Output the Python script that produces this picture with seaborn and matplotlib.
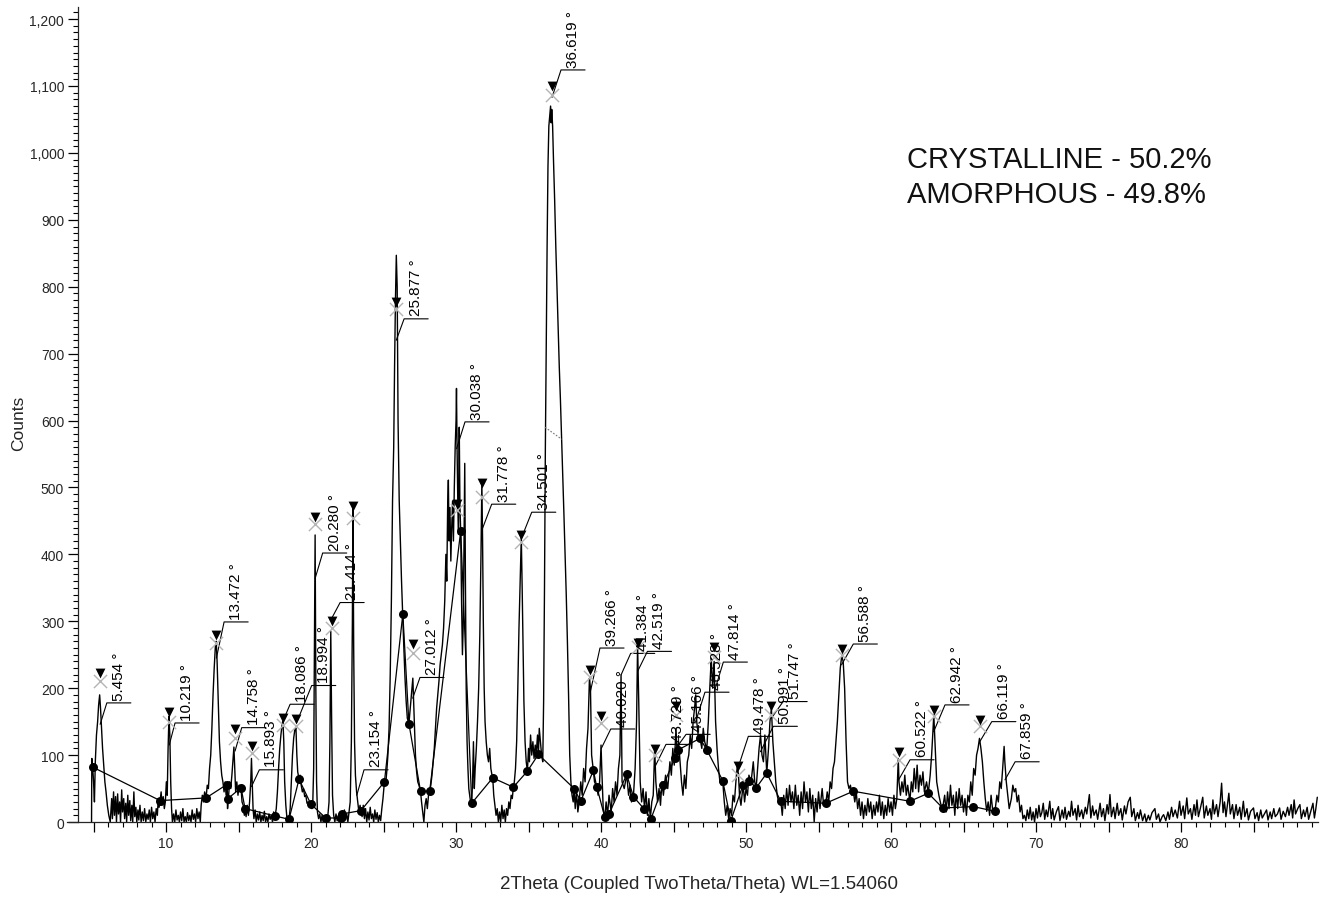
import matplotlib
matplotlib.use("Agg")
import matplotlib.pyplot as plt
import seaborn as sns
import pandas as pd
from matplotlib.ticker import MultipleLocator, FixedLocator, FuncFormatter

# ---------------- data: (2theta, counts) ----------------
seg_05_10 = [
    (4.86, 0), (4.88, 95), (4.94, 82), (5.00, 60), (5.06, 30), (5.12, 90), (5.20, 130), (5.28, 150), (5.35, 175),
    (5.42, 190), (5.48, 170), (5.55, 140), (5.62, 110), (5.70, 85), (5.78, 60), (5.86, 45), (5.95, 25), (6.05, 10),
    (6.15, 0), (6.25, 35), (6.30, 5), (6.38, 45), (6.44, 10), (6.52, 38), (6.58, 0), (6.66, 42), (6.72, 12),
    (6.80, 30), (6.86, 0), (6.94, 48), (7.00, 15), (7.08, 35), (7.14, 5), (7.22, 28), (7.28, 0), (7.36, 40),
    (7.42, 10), (7.50, 32), (7.56, 2), (7.64, 25), (7.70, 0), (7.78, 45), (7.84, 8), (7.92, 22), (7.98, 0),
    (8.06, 18), (8.12, 3), (8.20, 25), (8.28, 0), (8.36, 15), (8.44, 2), (8.52, 20), (8.60, 0), (8.68, 12),
    (8.76, 4), (8.84, 18), (8.92, 0), (9.00, 22), (9.08, 5), (9.16, 15), (9.24, 0), (9.32, 20), (9.40, 10),
    (9.46, 35), (9.52, 22), (9.59, 32), (9.66, 45), (9.72, 25), (9.80, 38), (9.88, 20), (9.95, 30),
]
seg_10_14 = [
    (10.02, 60), (10.08, 40), (10.14, 110), (10.20, 158), (10.26, 130), (10.32, 60), (10.38, 20), (10.44, 0),
    (10.52, 12), (10.60, 0), (10.68, 18), (10.76, 3), (10.84, 10), (10.92, 0), (11.00, 15), (11.08, 2),
    (11.16, 20), (11.24, 0), (11.32, 8), (11.40, 0), (11.48, 14), (11.56, 2), (11.64, 10), (11.72, 0),
    (11.80, 18), (11.88, 4), (11.96, 12), (12.04, 0), (12.12, 20), (12.20, 5), (12.28, 15), (12.36, 0),
    (12.42, 25), (12.50, 40), (12.58, 30), (12.66, 45), (12.76, 36), (12.84, 55), (12.92, 50), (13.00, 80),
    (13.08, 100), (13.16, 140), (13.24, 190), (13.32, 230), (13.40, 262), (13.46, 270), (13.52, 240),
    (13.60, 180), (13.68, 120), (13.76, 90), (13.84, 70), (13.92, 60), (14.00, 45), (14.08, 60), (14.14, 40),
    (14.19, 56), (14.24, 20), (14.30, 35),
]
seg_14_20 = [
    (14.38, 60), (14.46, 50), (14.54, 70), (14.62, 95), (14.68, 112), (14.74, 80), (14.80, 45), (14.88, 60),
    (14.96, 40), (15.04, 55), (15.12, 48), (15.17, 51), (15.24, 30), (15.32, 25), (15.40, 10), (15.45, 20),
    (15.52, 8), (15.60, 25), (15.68, 10), (15.76, 30), (15.84, 60), (15.89, 95), (15.94, 60), (16.00, 20),
    (16.06, 5), (16.14, 18), (16.22, 0), (16.30, 12), (16.38, 3), (16.46, 15), (16.54, 0), (16.62, 10),
    (16.70, 2), (16.78, 16), (16.86, 0), (16.94, 8), (17.02, 0), (17.10, 12), (17.18, 4), (17.26, 10),
    (17.34, 0), (17.42, 15), (17.52, 9), (17.60, 20), (17.68, 45), (17.76, 80), (17.84, 110), (17.92, 130),
    (18.00, 145), (18.06, 152), (18.12, 120), (18.18, 60), (18.26, 25), (18.34, 5), (18.42, 0), (18.48, 4),
    (18.56, 20), (18.64, 60), (18.72, 100), (18.80, 125), (18.88, 138), (18.96, 140), (19.02, 100), (19.08, 75),
    (19.17, 64), (19.24, 70), (19.32, 55), (19.40, 45), (19.48, 50), (19.56, 38), (19.64, 40), (19.72, 28),
    (19.80, 30), (19.90, 22), (19.98, 27), (20.06, 20), (20.12, 30),
]
seg_20_25 = [
    (20.18, 80), (20.24, 300), (20.28, 429), (20.33, 200), (20.38, 60), (20.44, 15), (20.52, 5), (20.60, 12),
    (20.68, 0), (20.76, 10), (20.84, 0), (20.92, 8), (21.01, 6), (21.08, 0), (21.16, 10), (21.24, 30),
    (21.30, 120), (21.36, 285), (21.42, 150), (21.48, 40), (21.56, 10), (21.64, 0), (21.72, 12), (21.80, 2),
    (21.88, 10), (21.96, 0), (22.07, 6), (22.14, 15), (22.22, 5), (22.30, 18), (22.38, 3), (22.46, 12),
    (22.54, 0), (22.62, 15), (22.70, 30), (22.78, 120), (22.85, 300), (22.89, 472), (22.94, 260), (23.00, 120),
    (23.06, 70), (23.14, 45), (23.22, 30), (23.30, 15), (23.38, 25), (23.44, 17), (23.52, 8), (23.60, 25),
    (23.68, 5), (23.76, 20), (23.84, 0), (23.92, 15), (24.00, 3), (24.08, 22), (24.16, 5), (24.24, 12),
    (24.32, 0), (24.40, 18), (24.48, 4), (24.56, 14), (24.64, 0), (24.72, 10), (24.80, 2), (24.88, 20),
    (24.96, 35),
]
seg_25_31 = [
    (25.06, 60), (25.14, 55), (25.22, 75), (25.30, 100), (25.38, 140), (25.46, 220), (25.54, 330), (25.62, 480),
    (25.70, 560), (25.76, 680), (25.82, 780), (25.88, 847), (25.94, 800), (26.00, 600), (26.08, 480),
    (26.16, 420), (26.24, 360), (26.32, 310), (26.40, 260), (26.48, 215), (26.56, 180), (26.64, 155),
    (26.75, 147), (26.82, 165), (26.90, 185), (26.96, 200), (27.02, 215), (27.08, 175), (27.14, 140),
    (27.20, 100), (27.28, 75), (27.36, 60), (27.44, 55), (27.55, 46), (27.62, 30), (27.70, 15), (27.78, 0),
    (27.86, 25), (27.94, 35), (28.02, 20), (28.10, 40), (28.18, 46), (28.26, 55), (28.34, 70), (28.42, 90),
    (28.50, 110), (28.58, 140), (28.66, 170), (28.74, 190), (28.82, 210), (28.90, 235), (28.98, 250),
    (29.06, 265), (29.14, 290), (29.22, 330), (29.30, 400), (29.36, 360), (29.42, 470), (29.47, 511),
    (29.52, 420), (29.58, 470), (29.64, 390), (29.70, 440), (29.76, 480), (29.82, 420), (29.88, 500),
    (29.94, 560), (30.00, 600), (30.03, 648), (30.07, 560), (30.12, 480), (30.17, 430), (30.22, 590),
    (30.27, 470), (30.32, 435), (30.38, 330), (30.44, 250), (30.50, 300), (30.56, 450), (30.60, 536),
    (30.65, 350), (30.70, 200), (30.76, 120), (30.82, 80), (30.88, 50), (30.94, 40), (31.00, 30), (31.08, 28),
]
seg_31_38 = [
    (31.14, 60), (31.20, 120), (31.26, 50), (31.32, 80), (31.40, 110), (31.48, 150), (31.56, 200), (31.64, 280),
    (31.72, 400), (31.78, 508), (31.83, 420), (31.88, 300), (31.94, 200), (32.00, 150), (32.08, 120),
    (32.16, 100), (32.24, 90), (32.32, 110), (32.40, 80), (32.48, 70), (32.53, 66), (32.60, 40), (32.68, 25),
    (32.76, 10), (32.84, 20), (32.92, 0), (33.00, 15), (33.08, 0), (33.16, 25), (33.24, 5), (33.32, 18),
    (33.40, 0), (33.48, 20), (33.56, 10), (33.64, 30), (33.72, 20), (33.80, 40), (33.88, 35), (33.95, 52),
    (34.02, 60), (34.10, 80), (34.18, 120), (34.26, 200), (34.34, 290), (34.42, 360), (34.50, 426),
    (34.56, 350), (34.62, 260), (34.68, 180), (34.76, 120), (34.84, 90), (34.92, 76), (35.00, 110),
    (35.06, 90), (35.14, 130), (35.22, 100), (35.30, 120), (35.38, 95), (35.46, 115), (35.54, 105),
    (35.62, 130), (35.68, 101), (35.74, 140), (35.82, 120), (35.90, 100), (35.98, 90), (36.04, 180),
    (36.10, 350), (36.16, 560), (36.22, 720), (36.28, 860), (36.34, 980), (36.40, 1040), (36.46, 1055),
    (36.52, 1070), (36.56, 1045), (36.60, 1065), (36.66, 1040), (36.72, 990), (36.80, 930), (36.88, 860),
    (36.96, 800), (37.04, 740), (37.12, 680), (37.20, 630), (37.28, 575), (37.36, 520), (37.44, 460),
    (37.52, 400), (37.60, 340), (37.68, 270), (37.76, 190), (37.84, 100), (37.92, 60), (38.00, 40),
    (38.08, 30), (38.14, 50),
]
seg_38_45 = [
    (38.22, 20), (38.30, 45), (38.40, 15), (38.50, 31), (38.60, 60), (38.70, 40), (38.80, 80), (38.90, 60),
    (39.00, 110), (39.10, 140), (39.20, 215), (39.27, 200), (39.35, 100), (39.47, 77), (39.55, 60), (39.70, 53),
    (39.80, 40), (39.90, 60), (40.00, 115), (40.05, 80), (40.15, 20), (40.25, 5), (40.35, 30), (40.45, 10),
    (40.55, 40), (40.70, 15), (40.80, 50), (40.90, 30), (41.00, 60), (41.10, 40), (41.20, 80), (41.30, 100),
    (41.38, 220), (41.45, 60), (41.60, 50), (41.77, 71), (41.90, 40), (42.00, 55), (42.10, 30), (42.23, 38),
    (42.35, 80), (42.45, 150), (42.52, 265), (42.60, 180), (42.70, 60), (42.80, 30), (42.90, 50), (43.00, 20),
    (43.10, 45), (43.20, 10), (43.30, 35), (43.40, 5), (43.50, 30), (43.60, 40), (43.70, 110), (43.78, 60),
    (43.90, 30), (44.00, 50), (44.10, 25), (44.20, 60), (44.30, 40), (44.45, 70), (44.60, 50), (44.75, 90),
    (44.85, 70), (44.95, 110),
]
seg_45_52 = [
    (45.05, 85), (45.17, 140), (45.25, 100), (45.35, 120), (45.45, 90), (45.55, 60), (45.65, 40), (45.75, 70),
    (45.85, 50), (45.95, 90), (46.05, 100), (46.15, 130), (46.25, 110), (46.35, 150), (46.45, 170), (46.53, 190),
    (46.60, 150), (46.70, 130), (46.83, 125), (46.95, 110), (47.05, 140), (47.15, 120), (47.29, 108),
    (47.40, 150), (47.50, 200), (47.60, 245), (47.70, 200), (47.80, 240), (47.90, 150), (48.00, 110),
    (48.10, 80), (48.20, 60), (48.30, 55), (48.39, 62), (48.50, 30), (48.60, 10), (48.70, 25), (48.80, 5),
    (48.90, 20), (49.00, 10), (49.10, 40), (49.20, 30), (49.30, 60), (49.40, 85), (49.48, 70), (49.55, 40),
    (49.65, 25), (49.80, 56), (49.90, 30), (50.00, 50), (50.10, 40), (50.20, 70), (50.35, 60), (50.50, 90),
    (50.60, 60), (50.70, 51), (50.80, 80), (50.90, 110), (51.00, 130), (51.10, 100), (51.20, 90), (51.30, 130),
    (51.43, 73), (51.55, 110), (51.65, 150), (51.75, 170), (51.85, 120), (51.95, 90), (52.05, 60), (52.15, 40),
    (52.25, 30), (52.40, 31),
]
seg_52_60 = [
    (52.50, 10), (52.60, 40), (52.70, 20), (52.80, 50), (52.90, 25), (53.00, 55), (53.10, 30), (53.20, 45),
    (53.30, 20), (53.40, 55), (53.50, 25), (53.60, 40), (53.70, 10), (53.80, 45), (53.90, 20), (54.00, 60),
    (54.10, 30), (54.20, 45), (54.30, 15), (54.40, 50), (54.50, 20), (54.60, 40), (54.70, 0), (54.80, 35),
    (54.90, 15), (55.00, 45), (55.10, 20), (55.25, 50), (55.35, 25), (55.50, 28), (55.60, 45), (55.70, 30),
    (55.80, 60), (55.90, 50), (56.00, 80), (56.10, 90), (56.20, 120), (56.30, 150), (56.40, 190), (56.50, 230),
    (56.60, 248), (56.70, 240), (56.80, 200), (56.90, 120), (57.00, 60), (57.10, 50), (57.20, 55), (57.30, 40),
    (57.40, 46), (57.50, 30), (57.60, 45), (57.70, 20), (57.80, 35), (57.90, 10), (58.00, 30), (58.10, 5),
    (58.20, 25), (58.30, 10), (58.40, 35), (58.50, 15), (58.60, 30), (58.70, 5), (58.80, 25), (58.90, 10),
    (59.00, 30), (59.10, 15), (59.20, 40), (59.30, 10), (59.40, 30), (59.50, 5), (59.60, 25), (59.70, 10),
    (59.80, 35), (59.90, 15),
]
seg_60_69 = [
    (60.00, 30), (60.10, 10), (60.20, 40), (60.30, 20), (60.40, 35), (60.50, 95), (60.55, 60), (60.65, 40),
    (60.75, 60), (60.85, 45), (60.95, 70), (61.05, 40), (61.15, 55), (61.30, 31), (61.40, 60), (61.50, 45),
    (61.60, 80), (61.70, 50), (61.80, 85), (61.90, 45), (62.00, 70), (62.10, 55), (62.20, 75), (62.30, 45),
    (62.45, 60), (62.57, 43), (62.70, 70), (62.80, 100), (62.90, 140), (62.95, 160), (63.05, 110), (63.15, 60),
    (63.30, 40), (63.45, 25), (63.56, 21), (63.70, 40), (63.80, 15), (63.90, 45), (64.00, 20), (64.10, 55),
    (64.20, 25), (64.30, 40), (64.40, 10), (64.50, 45), (64.60, 20), (64.70, 50), (64.80, 25), (64.90, 40),
    (65.00, 15), (65.10, 35), (65.20, 10), (65.30, 40), (65.40, 30), (65.50, 60), (65.60, 40), (65.70, 80),
    (65.80, 70), (65.90, 100), (66.00, 110), (66.10, 125), (66.20, 110), (66.30, 90), (66.40, 60), (66.50, 35),
    (66.60, 16), (66.70, 30), (66.80, 10), (66.90, 40), (67.00, 20), (67.17, 16), (67.30, 40), (67.40, 30),
    (67.50, 60), (67.60, 50), (67.70, 80), (67.80, 113), (67.85, 90), (67.95, 60), (68.05, 40), (68.15, 20),
    (68.30, 35), (68.40, 55), (68.50, 45), (68.60, 50), (68.70, 30), (68.80, 40), (68.90, 15), (69.00, 25),
    (69.10, 5),
]
seg_69_79 = [
    (69.20, 10), (69.30, 2), (69.40, 18), (69.50, 5), (69.60, 22), (69.70, 3), (69.80, 15), (69.90, 0),
    (70.00, 20), (70.10, 6), (70.20, 25), (70.30, 8), (70.40, 14), (70.50, 28), (70.60, 4), (70.70, 18),
    (70.80, 8), (70.95, 31), (71.05, 5), (71.15, 20), (71.25, 3), (71.40, 15), (71.55, 23), (71.65, 2),
    (71.80, 18), (71.90, 6), (72.00, 22), (72.10, 4), (72.25, 16), (72.35, 8), (72.45, 31), (72.55, 10),
    (72.70, 20), (72.80, 3), (72.90, 25), (73.00, 8), (73.15, 18), (73.25, 5), (73.40, 22), (73.50, 12),
    (73.68, 41), (73.78, 6), (73.90, 24), (74.00, 10), (74.15, 18), (74.25, 4), (74.42, 28), (74.52, 8),
    (74.65, 20), (74.75, 2), (74.90, 26), (75.00, 12), (75.10, 41), (75.20, 8), (75.35, 22), (75.45, 5),
    (75.60, 28), (75.70, 10), (75.85, 20), (75.95, 3), (76.10, 24), (76.20, 12), (76.35, 30), (76.50, 37),
    (76.60, 8), (76.75, 20), (76.85, 2), (77.00, 14), (77.10, 5), (77.20, 18), (77.35, 2), (77.50, 12),
    (77.60, 0), (77.75, 10), (77.85, 3), (78.00, 14), (78.20, 20), (78.30, 4), (78.45, 12), (78.55, 0),
    (78.70, 8), (78.80, 11), (78.95, 2),
]
seg_79_89 = [
    (79.10, 15), (79.20, 4), (79.35, 22), (79.45, 8), (79.60, 18), (79.75, 6), (79.90, 31), (80.00, 10),
    (80.15, 24), (80.25, 5), (80.40, 36), (80.50, 12), (80.65, 20), (80.75, 4), (80.90, 26), (81.00, 10),
    (81.10, 33), (81.20, 8), (81.35, 22), (81.50, 37), (81.60, 6), (81.75, 24), (81.85, 10), (82.00, 20),
    (82.10, 4), (82.20, 33), (82.30, 12), (82.45, 26), (82.55, 8), (82.70, 30), (82.80, 58), (82.90, 14),
    (83.00, 30), (83.10, 8), (83.30, 43), (83.40, 12), (83.55, 26), (83.65, 5), (83.80, 26), (83.90, 10),
    (84.05, 22), (84.15, 4), (84.30, 31), (84.40, 8), (84.55, 20), (84.65, 3), (84.80, 16), (85.00, 21),
    (85.10, 5), (85.25, 14), (85.35, 2), (85.50, 18), (85.60, 6), (85.75, 12), (85.90, 18), (86.00, 3),
    (86.15, 15), (86.25, 5), (86.40, 20), (86.50, 8), (86.65, 12), (86.80, 21), (86.90, 4), (87.05, 16),
    (87.20, 8), (87.35, 22), (87.45, 10), (87.60, 26), (87.70, 6), (87.80, 33), (87.90, 12), (88.05, 20),
    (88.20, 26), (88.30, 5), (88.45, 18), (88.55, 8), (88.70, 22), (88.80, 4), (88.95, 16), (89.10, 28),
    (89.20, 6), (89.30, 20), (89.40, 37),
]

# grey dotted fit segment under the main peak
fit_two_theta = [36.14, 37.29]
fit_counts = [590, 572]

# fitted background points (black dots)
bg_two_theta = [4.94, 9.59, 12.76, 14.19, 14.26, 15.17, 15.45, 17.52, 18.48, 19.17, 19.98, 21.01, 22.07, 22.12,
                23.44, 25.06, 26.33, 26.75, 27.55, 28.18, 30.32, 31.08, 32.53, 33.95, 34.92, 35.68, 38.14, 38.60,
                39.47, 39.70, 40.25, 40.55, 41.77, 42.23, 42.95, 43.45, 44.30, 45.10, 45.33, 46.83, 47.29, 48.39,
                48.95, 49.80, 50.20, 50.70, 51.43, 52.40, 55.50, 57.40, 61.30, 62.57, 63.56, 65.68, 67.17]
bg_counts = [82, 32, 36, 56, 35, 51, 20, 9, 4, 64, 27, 6, 6, 12,
             17, 60, 311, 147, 46, 46, 435, 28, 66, 52, 76, 101, 50, 31,
             77, 53, 8, 12, 71, 38, 20, 5, 55, 96, 108, 125, 108, 62,
             2, 56, 62, 51, 73, 31, 28, 46, 31, 43, 21, 23, 16]

# peak labels
peak_pos = [5.454, 10.219, 13.472, 14.758, 15.893, 18.086, 18.994, 20.280, 21.414, 23.154, 25.877, 27.012,
            30.038, 31.778, 34.501, 36.619, 39.266, 40.020, 41.384, 42.519, 43.729, 45.166, 46.528, 47.814,
            49.478, 50.991, 51.747, 56.588, 60.522, 62.942, 66.119, 67.859]
label_lead = [146, 115, 245, 106, 53, 152, 148, 364, 304, 40, 720, 185,
              558, 436, 424, 1083, 195, 110, 220, 225, 83, 110, 150, 195,
              83, 105, 155, 235, 63, 135, 120, 63]
label_line = [178, 148, 299, 141, 78, 176, 204, 402, 328, 78, 752, 216,
              598, 475, 463, 1124, 260, 139, 252, 255, 116, 131, 194, 239,
              128, 143, 180, 266, 93, 175, 150, 90]
label_dx = [0.46, 0.40, 0.53, 0.46, 0.54, 0.47, 1.05, 0.52, 0.59, 0.50, 0.54, 0.50,
            0.58, 0.68, 0.72, 0.62, 0.66, 0.65, 0.66, 0.68, 0.75, 0.70, 0.64, 0.62,
            0.68, 0.89, 0.81, 0.81, 0.79, 0.78, 0.83, 0.70]

# peak markers (triangle and cross)
mark_pos = [5.454, 10.219, 13.472, 14.758, 15.893, 18.086, 18.994, 20.280, 21.414, 22.89, 25.877, 27.012,
            30.038, 31.778, 34.501, 36.619, 39.266, 40.020, 42.519, 43.729, 45.166, 47.814, 49.478, 51.747,
            56.588, 60.522, 62.942, 66.119]
mark_tri = [222, 164, 279, 139, 114, 155, 154, 456, 300, 472, 777, 266,
            476, 506, 429, 1100, 227, 158, 267, 109, 173, 262, 83, 173,
            259, 104, 168, 153]
mark_x = [211, 150, 267, 126, 103, 145, 144, 445, 290, 455, 766, 252,
          466, 486, 419, 1086, 217, 148, 262, 100, 160, 247, 70, 160,
          250, 93, 158, 143]

phase_text = ["CRYSTALLINE - 50.2%", "AMORPHOUS - 49.8%"]

# ---------------- drawing ----------------
sns.set_style("ticks")
plt.rcParams["font.family"] = ["Liberation Sans", "DejaVu Sans"]
plt.rcParams["axes.linewidth"] = 0.9

fig = plt.figure(figsize=(13.3, 9.04), dpi=100)
ax = fig.add_axes([0.0504, 0.0896, 0.9406, 0.9015])

segments = [seg_05_10, seg_10_14, seg_14_20, seg_20_25, seg_25_31, seg_31_38,
            seg_38_45, seg_45_52, seg_52_60, seg_60_69, seg_69_79, seg_79_89]
trace = pd.DataFrame([pt for seg in segments for pt in seg], columns=["tth", "cnt"])
bg = pd.DataFrame({"tth": bg_two_theta, "cnt": bg_counts})
fit = pd.DataFrame({"tth": fit_two_theta, "cnt": fit_counts})
marks = pd.DataFrame({"tth": mark_pos, "tri": mark_tri, "x": mark_x})

sns.lineplot(data=trace, x="tth", y="cnt", sort=False, estimator=None, color="black", lw=1.0, ax=ax)
sns.lineplot(data=fit, x="tth", y="cnt", sort=False, estimator=None, color="#777777", lw=0.8,
             linestyle=(0, (1.5, 1.5)), ax=ax)
sns.lineplot(data=bg, x="tth", y="cnt", sort=False, estimator=None, color="black", lw=0.9, ax=ax)
sns.scatterplot(data=bg, x="tth", y="cnt", marker="o", s=42, color="black", edgecolor="black",
                linewidth=0, ax=ax, zorder=4)
sns.scatterplot(data=marks, x="tth", y="x", marker="x", s=90, color="#b4b4b4", linewidth=1.0, ax=ax, zorder=5)
sns.scatterplot(data=marks, x="tth", y="tri", marker="v", s=50, color="black", edgecolor="black",
                linewidth=0, ax=ax, zorder=6)

hlen = 1.66
for p, lead, line, dx in zip(peak_pos, label_lead, label_line, label_dx):
    hs = p + dx
    ax.plot([p, hs, hs + hlen], [lead, line, line], color="black", lw=0.8, zorder=3)
    ax.text(hs + 0.82, line + 5, f"{p:.3f} °", rotation=90, ha="center", va="bottom",
            fontsize=11, color="black", zorder=7)

ax.text(61.1, 991, phase_text[0], fontsize=21, va="center", ha="left", color="#111111")
ax.text(61.1, 939, phase_text[1], fontsize=21, va="center", ha="left", color="#111111")

ax.set_xlim(3.17, 89.45)
ax.set_ylim(0, 1218)
ax.spines["right"].set_visible(False)
ax.spines["top"].set_visible(False)
ax.spines["left"].set_position(("data", 3.93))

ax.xaxis.set_major_locator(FixedLocator(list(range(5, 90, 5))))
ax.xaxis.set_minor_locator(FixedLocator(list(range(5, 90))))
ax.xaxis.set_major_formatter(FuncFormatter(lambda v, _: f"{int(round(v))}" if int(round(v)) % 10 == 0 else ""))
ax.yaxis.set_major_locator(MultipleLocator(100))
ax.yaxis.set_minor_locator(MultipleLocator(10))
ax.yaxis.set_major_formatter(FuncFormatter(lambda v, _: f"{int(round(v)):,}"))

ax.tick_params(axis="both", which="major", direction="out", length=7, width=0.9, labelsize=10, pad=3,
               color="black")
ax.tick_params(axis="both", which="minor", direction="out", length=3.5, width=0.8, color="black")

ax.set_xlabel("2Theta (Coupled TwoTheta/Theta) WL=1.54060", fontsize=13.5)
ax.set_ylabel("Counts", fontsize=12.5)
ax.xaxis.set_label_coords(0.505, -0.075)
ax.xaxis.label.set_va("center")
ax.yaxis.set_label_coords(-0.039, 0.49)
ax.yaxis.label.set_va("center")

fig.savefig("out.png", dpi=100, facecolor="white")
